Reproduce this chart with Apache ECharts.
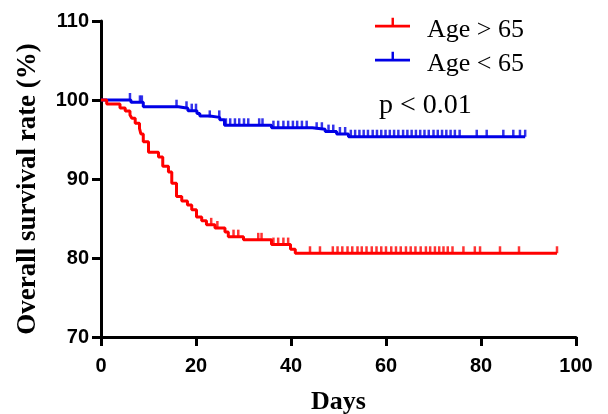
<!DOCTYPE html>
<html><head><meta charset="utf-8">
<script src="https://cdn.jsdelivr.net/npm/echarts@6/dist/echarts.min.js"></script>
<style>html,body{margin:0;padding:0;background:#fff}#c{width:608px;height:414px}</style>
</head><body><div id="c"></div>
<script>
const seriesNames = ['Age > 65', 'Age < 65'];
const pText = 'p < 0.01';
const xTitle = 'Days';
const yTitle = 'Overall survival rate (%)';

// Age > 65 (red): step times and survival levels
const redDays = [0, 1.2, 4.0, 5.1, 6.1, 6.5, 7.2, 8.1, 8.4, 8.9, 10.0, 12.1, 13.0, 14.2, 14.9, 15.9, 17.0, 18.2, 19.1, 20.1, 21.2, 22.2, 24.0, 26.1, 26.8, 30.0, 35.9, 39.9, 40.9, 96.0];
const redSurv = [100, 99.5, 99.0, 98.6, 98.1, 97.7, 97.05, 96.4, 95.7, 94.7, 93.4, 92.8, 91.6, 90.9, 89.45, 87.8, 87.2, 86.7, 86.1, 85.2, 84.7, 84.2, 83.8, 83.3, 82.7, 82.3, 81.7, 81.1, 80.6, 80.6];
const redCensor = [23.2, 24.5, 27.9, 28.9, 33.1, 33.8, 36.3, 37.3, 38.4, 39.4, 44.0, 46.1, 48.8, 49.8, 50.8, 51.9, 52.9, 54.0, 54.9, 55.9, 57.0, 58.0, 59.0, 60.0, 61.1, 62.1, 63.1, 64.2, 65.2, 66.2, 67.3, 68.4, 69.3, 70.3, 71.2, 72.1, 73.0, 74.0, 76.3, 78.7, 79.8, 84.0, 88.0, 96.0];

// Age < 65 (blue)
const blueDays = [0, 6.3, 8.9, 16.3, 18.3, 20.2, 20.8, 22.9, 25.0, 26.0, 35.9, 44.5, 47.2, 49.6, 52.1, 89.3];
const blueSurv = [100, 99.7, 99.15, 98.95, 98.65, 98.3, 97.97, 97.8, 97.5, 96.8, 96.5, 96.3, 96.0, 95.7, 95.35, 95.35];
const blueCensor = [6.1, 8.2, 8.6, 15.9, 18.0, 19.1, 20.0, 22.9, 24.9, 26.3, 27.2, 28.2, 29.1, 30.1, 31.0, 33.3, 34.0, 36.3, 37.3, 38.4, 39.4, 40.4, 41.3, 42.3, 43.3, 45.4, 46.5, 47.9, 48.9, 50.3, 51.4, 52.6, 53.5, 54.4, 55.3, 56.2, 57.2, 58.1, 59.0, 59.9, 60.8, 61.7, 62.6, 63.6, 64.5, 65.4, 66.3, 67.2, 68.1, 69.0, 70.0, 70.9, 71.8, 72.7, 73.6, 74.5, 75.5, 79.1, 81.2, 84.7, 86.8, 88.2, 89.3];

const xMin = 0, xMax = 100, xStep = 20;
const yMin = 70, yMax = 110, yStep = 10;

function levelAt(days, surv, t) {
  let s = surv[0];
  for (let i = 0; i < days.length; i++) if (days[i] <= t) s = surv[i];
  return s;
}
const pairs = (d, s) => d.map((v, i) => [v, s[i]]);
const censorPts = (c, d, s) => c.map(t => [t, levelAt(d, s, t)]);

const RED = '#ff0000', BLUE = '#0000e6';
// line with an upward tick; tiny point at the bottom lifts the line above the text centre
const icon = 'path://M0,7H36V10H0Z M17,0H19.5V7H17Z M0,25H0.05V25.05H0Z';

const chart = echarts.init(document.getElementById('c'), null, {renderer: 'canvas'});
chart.setOption({
  animation: false,
  backgroundColor: '#fff',
  grid: {left: 101, right: 32, top: 21, bottom: 77, containLabel: false, outerBoundsMode: 'none'},
  xAxis: {
    type: 'value', min: xMin, max: xMax, interval: xStep,
    name: xTitle, nameLocation: 'middle', nameGap: 52,
    nameTextStyle: {fontFamily: 'Liberation Serif', fontWeight: 'bold', fontSize: 26, color: '#000'},
    axisLine: {lineStyle: {color: '#000', width: 3}},
    axisTick: {show: true, inside: false, length: 9, lineStyle: {color: '#000', width: 3}},
    axisLabel: {fontFamily: 'Liberation Sans', fontWeight: 'bold', fontSize: 20, color: '#000', margin: 19},
    splitLine: {show: false}
  },
  yAxis: {
    type: 'value', min: yMin, max: yMax, interval: yStep,
    name: yTitle, nameLocation: 'middle', nameGap: 59,
    nameTextStyle: {fontFamily: 'Liberation Serif', fontWeight: 'bold', fontSize: 27, color: '#000', padding: [0, 20, 0, 0]},
    axisLine: {show: true, lineStyle: {color: '#000', width: 3}},
    axisTick: {show: true, inside: false, length: 9, lineStyle: {color: '#000', width: 3}},
    axisLabel: {fontFamily: 'Liberation Sans', fontWeight: 'bold', fontSize: 20, color: '#000', margin: 12},
    splitLine: {show: false}
  },
  legend: {
    data: [{name: seriesNames[0], icon: icon}, {name: seriesNames[1], icon: icon}],
    orient: 'vertical', left: 375, top: 17, padding: 0, itemWidth: 35, itemHeight: 25, itemGap: 8,
    textStyle: {fontFamily: 'Liberation Serif', fontSize: 26, color: '#000', padding: [0, 0, 0, 12]}
  },
  graphic: [{
    type: 'text', left: 379, top: 92,
    style: {text: pText, font: '28px "Liberation Serif"', fill: '#000'}
  }],
  series: [
    {name: seriesNames[1], type: 'line', step: 'end', data: pairs(blueDays, blueSurv), showSymbol: false,
     color: BLUE, lineStyle: {color: BLUE, width: 3}, z: 2},
    {name: seriesNames[1] + ' censored', type: 'scatter', data: censorPts(blueCensor, blueDays, blueSurv),
     symbol: 'rect', symbolSize: [2.5, 7], symbolOffset: [0, -3.5], itemStyle: {color: BLUE}, z: 2},
    {name: seriesNames[0], type: 'line', step: 'end', data: pairs(redDays, redSurv), showSymbol: false,
     color: RED, lineStyle: {color: RED, width: 3}, z: 3},
    {name: seriesNames[0] + ' censored', type: 'scatter', data: censorPts(redCensor, redDays, redSurv),
     symbol: 'rect', symbolSize: [2.5, 7], symbolOffset: [0, -3.5], itemStyle: {color: RED}, z: 3}
  ]
});
</script></body></html>
